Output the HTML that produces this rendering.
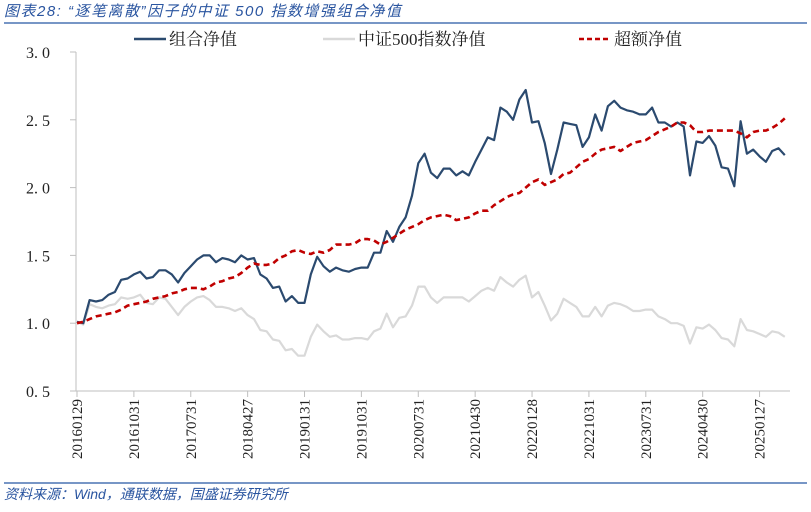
<!DOCTYPE html>
<html><head><meta charset="utf-8"><style>
body{margin:0;background:#fff;width:811px;height:507px;overflow:hidden;font-family:"Liberation Sans","Noto Sans CJK SC",sans-serif}
</style></head><body>
<svg width="811" height="507" xmlns="http://www.w3.org/2000/svg">
<text x="4" y="16" font-size="15" letter-spacing="1.5" fill="#2a55a0" font-style="italic" font-family="Liberation Sans,Noto Sans CJK SC,sans-serif">图表28:  “逐笔离散”因子的中证 500 指数增强组合净值</text>
<line x1="4" y1="23" x2="807" y2="23" stroke="#4a74b4" stroke-width="1.5"/>
<g font-size="17" font-family="Liberation Serif,Noto Serif CJK SC,serif" fill="#222">
<g><line x1="134" y1="39" x2="166" y2="39" stroke="#2b4a6f" stroke-width="2.5"/><text x="169" y="45">组合净值</text></g>
<g><line x1="323" y1="39" x2="355" y2="39" stroke="#d9d9d9" stroke-width="2.5"/><text x="358" y="45">中证500指数净值</text></g>
<g><line x1="579" y1="39" x2="611" y2="39" stroke="#c00000" stroke-width="2.5" stroke-dasharray="5,3"/><text x="614" y="45">超额净值</text></g>
</g>
<g id="axes"></g>
<g id="series"></g>
<line x1="4" y1="483" x2="807" y2="483" stroke="#4a74b4" stroke-width="1.5"/>
<text x="4" y="499" font-size="14" fill="#2a55a0" font-style="italic">资料来源：Wind，通联数据，国盛证券研究所</text>
</svg>
<script>
const tickDates=["20160129","20161031","20170731","20180427","20190131","20191031","20200731","20210430","20220128","20221031","20230731","20240430","20250127"];
const yTicks=[0.5,1.0,1.5,2.0,2.5,3.0];
const portfolio=[1.01,1.00,1.17,1.16,1.17,1.21,1.23,1.32,1.33,1.36,1.38,1.33,1.34,1.39,1.39,1.36,1.30,1.37,1.42,1.47,1.50,1.50,1.45,1.48,1.47,1.45,1.50,1.47,1.48,1.36,1.33,1.26,1.27,1.16,1.20,1.15,1.15,1.36,1.49,1.42,
1.38,1.41,1.39,1.38,1.40,1.41,1.41,1.52,1.52,1.68,1.60,1.71,1.78,1.94,2.18,2.25,2.11,2.07,2.14,2.14,2.09,2.12,2.09,2.19,2.28,2.37,2.35,2.59,2.56,2.50,2.65,2.72,2.48,2.49,2.33,2.10,2.28,
2.48,2.47,2.46,2.30,2.37,2.54,2.42,2.60,2.64,2.59,2.57,2.56,2.54,2.54,2.59,2.48,2.48,2.45,2.48,2.45,2.09,2.34,2.33,2.38,2.31,2.15,2.14,2.01,2.49,2.25,2.28,2.23,2.19,2.27,2.29,2.24];
const csi500=[1.01,0.99,1.14,1.12,1.11,1.13,1.14,1.19,1.18,1.19,1.21,1.15,1.14,1.19,1.18,1.12,1.06,1.12,1.16,1.19,1.20,1.17,1.12,1.12,1.11,1.09,1.11,1.06,1.03,0.95,0.94,0.88,0.87,0.80,0.81,0.76,0.76,0.90,0.99,0.94,
0.90,0.91,0.88,0.88,0.89,0.89,0.88,0.94,0.96,1.07,0.97,1.04,1.05,1.13,1.27,1.27,1.19,1.15,1.19,1.19,1.19,1.19,1.16,1.20,1.24,1.26,1.24,1.34,1.30,1.27,1.32,1.35,1.19,1.23,1.13,1.02,1.07,
1.18,1.15,1.12,1.05,1.05,1.12,1.05,1.13,1.15,1.14,1.12,1.09,1.09,1.10,1.10,1.05,1.03,1.00,1.00,0.98,0.85,0.97,0.96,0.99,0.95,0.89,0.88,0.83,1.03,0.95,0.94,0.92,0.90,0.94,0.93,0.90];
const excess=[1.00,1.01,1.03,1.05,1.06,1.07,1.08,1.10,1.13,1.14,1.15,1.16,1.18,1.19,1.20,1.22,1.23,1.25,1.26,1.26,1.25,1.27,1.30,1.31,1.33,1.34,1.37,1.41,1.44,1.43,1.43,1.44,1.48,1.50,1.53,1.54,1.52,1.51,1.53,1.52,
1.54,1.58,1.58,1.58,1.59,1.62,1.62,1.61,1.58,1.60,1.63,1.66,1.69,1.71,1.73,1.76,1.78,1.79,1.80,1.79,1.76,1.77,1.78,1.81,1.83,1.83,1.87,1.90,1.93,1.95,1.96,2.00,2.04,2.06,2.02,2.04,2.06,
2.10,2.11,2.15,2.19,2.21,2.25,2.28,2.29,2.30,2.27,2.30,2.33,2.34,2.35,2.38,2.41,2.43,2.45,2.48,2.48,2.46,2.41,2.41,2.42,2.42,2.42,2.42,2.42,2.40,2.37,2.41,2.42,2.42,2.44,2.47,2.51];
const NS="http://www.w3.org/2000/svg";
const X0=77,DX=6.32,Y0=391,YPX=135.6;
function xs(i){return X0+i*DX;}
function ys(v){return Y0-(v-0.5)*YPX;}
const ax=document.getElementById('axes'),se=document.getElementById('series');
function mk(tag,attrs,parent){const e=document.createElementNS(NS,tag);for(const k in attrs)e.setAttribute(k,attrs[k]);parent.appendChild(e);return e;}
let l=mk('line',{x1:76,y1:ys(3.0),x2:76,y2:Y0,stroke:'#bfbfbf'},ax);


l=mk('line',{x1:76,y1:Y0,x2:790,y2:Y0,stroke:'#bfbfbf'},ax);


yTicks.forEach(v=>{
 const t=mk('line',{x1:70,y1:ys(v),x2:76,y2:ys(v),stroke:'#bfbfbf'},ax);
 
 
 const tx=mk('text',{x:50,y:ys(v)+6,'font-size':16,'text-anchor':'end','font-family':'Liberation Serif,serif',fill:'#222'},ax);
 tx.textContent=v.toFixed(1).replace('.','. ');
 
 
});
tickDates.forEach((d,k)=>{
 const x=xs(k*9);
 const t=mk('line',{x1:x,y1:Y0,x2:x,y2:Y0+6,stroke:'#bfbfbf'},ax);
 
 
 const tx=mk('text',{x:0,y:0,'font-size':15,'text-anchor':'end','font-family':'Liberation Serif,serif',fill:'#222',transform:`translate(${x+5},${Y0+8}) rotate(-90)`},ax);
 tx.textContent=d;
 
 
});
function line(arr,color,w,dash,name){
 const p=mk('polyline',{points:arr.map((v,i)=>xs(i).toFixed(1)+','+ys(v).toFixed(1)).join(' '),fill:'none',stroke:color,'stroke-width':w,'stroke-linejoin':'round'},se);
 if(dash)p.setAttribute('stroke-dasharray',dash);
 
 
}
line(csi500,'#d9d9d9',2.2,null,'csi500-line');
line(portfolio,'#2b4a6f',2.2,null,'portfolio-line');
line(excess,'#c00000',2.6,'6,4','excess-line');
</script>
</body></html>
